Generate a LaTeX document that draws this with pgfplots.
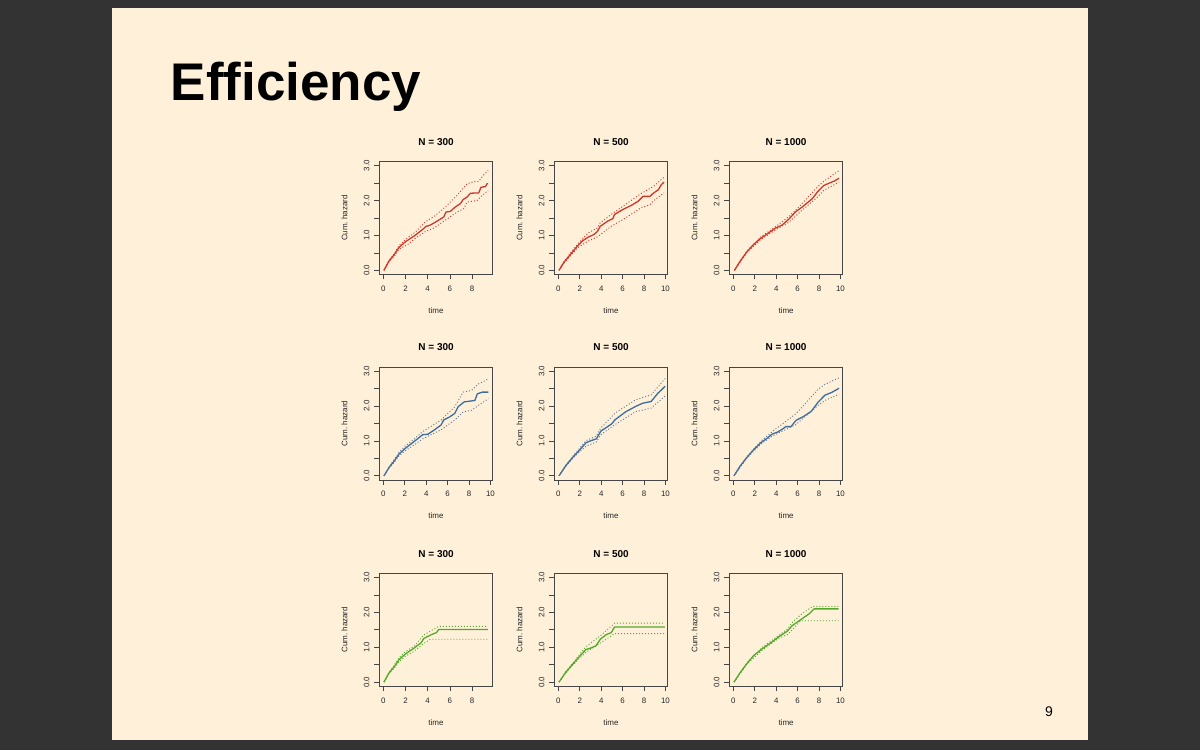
\documentclass[border=0pt]{standalone}
\usepackage{fontspec}
\setmainfont{Liberation Sans}
\usepackage{pgfplots}
\pgfplotsset{compat=1.18}
\definecolor{bgdark}{RGB}{51,51,51}
\definecolor{cream}{RGB}{255,241,217}
\definecolor{rred}{RGB}{208,55,45}
\definecolor{rblue}{RGB}{60,108,160}
\definecolor{rbluec}{RGB}{95,115,145}
\definecolor{rgreen}{RGB}{85,168,45}
\definecolor{axcol}{RGB}{70,70,70}
\pgfplotsset{
  rpanel/.style={
    scale only axis, width=113.5pt, height=113pt, anchor=south west,
    ymin=-0.12, ymax=3.12,
    ytick={0,0.5,1,1.5,2,2.5,3}, yticklabels={0.0,,1.0,,2.0,,3.0},
    xtick pos=left, ytick pos=left,
    tick align=outside, major tick length=5pt,
    axis line style={draw=axcol, line width=0.7pt},
    every tick/.style={draw=axcol, line width=0.7pt},
    tick label style={font=\fontsize{7.9}{9}\selectfont, text=black!85},
    yticklabel style={xshift=-4.6pt, rotate=90, anchor=south, inner sep=0pt},
    xticklabel style={anchor=north, inner sep=0pt, yshift=-6.1pt},
    xlabel=time, ylabel={Cum.\ hazard},
    label style={font=\fontsize{8}{9}\selectfont, text=black!85},
    xlabel style={at={(axis description cs:0.5,0)}, anchor=base, yshift=-39pt},
    ylabel style={at={(axis description cs:-0.282,0.5)}, anchor=base},
    title style={at={(axis description cs:0.5,1)}, anchor=base, yshift=10pt, font=\bfseries\fontsize{10}{12}\selectfont},
  },
  short/.style={xmin=-0.36, xmax=9.87, xtick={0,2,4,6,8}, xticklabels={0,2,4,6,8}},
  long/.style={xmin=-0.38, xmax=10.22, xtick={0,2,4,6,8,10}, xticklabels={0,2,4,6,8,10}},
  est/.style={line width=1.3pt, line join=round},
  ci/.style={line width=0.9pt, dash pattern=on 1pt off 2pt},
}
\begin{document}
\begin{tikzpicture}[x=1pt,y=1pt]
\useasboundingbox (0,0) rectangle (1200,750);
\fill[bgdark] (0,0) rectangle (1200,750);
\fill[cream] (112,10) rectangle (1088,742);
\node[anchor=base west, inner sep=0pt, font=\fontsize{53}{60}\selectfont\bfseries] at (170.7,649.3) {Efficiency};
\node[anchor=base, inner sep=0pt, font=\fontsize{14}{16}\selectfont] at (1049,33) {9};

% ---------- Row 1: red ----------
\begin{axis}[rpanel, short, at={(379.3pt,475.5pt)}, title={N = 300}]
\addplot[est, rred] coordinates {(0.06,0) (0.5,0.26) (0.96,0.44) (1.4,0.65) (2.0,0.82) (2.9,1.01) (3.65,1.20) (3.8,1.25) (4.25,1.30) (4.85,1.41) (5.45,1.53) (5.65,1.67) (6.05,1.69) (6.5,1.82) (6.95,1.91) (7.2,2.03) (7.55,2.10) (7.85,2.21) (8.6,2.22) (8.8,2.38) (9.2,2.40) (9.35,2.48) (9.45,2.48)};
\addplot[ci, rred] coordinates {(0.06,0) (0.5,0.28) (1.0,0.48) (1.4,0.70) (2.15,0.92) (2.9,1.10) (3.8,1.39) (4.6,1.55) (5.6,1.82) (6.65,2.15) (7.55,2.48) (8.15,2.54) (8.6,2.55) (9.0,2.72) (9.45,2.86)};
\addplot[ci, rred] coordinates {(0.06,0) (0.5,0.24) (1.0,0.40) (1.4,0.60) (2.15,0.73) (2.9,0.92) (3.8,1.11) (4.6,1.22) (5.6,1.44) (6.65,1.67) (7.25,1.77) (7.55,1.96) (8.45,2.0) (8.75,2.10) (9.45,2.29)};
\end{axis}
\begin{axis}[rpanel, long, at={(554.3pt,475.5pt)}, title={N = 500}]
\addplot[est, rred] coordinates {(0.06,0) (0.5,0.22) (1.14,0.46) (1.77,0.69) (2.24,0.84) (2.78,0.95) (3.34,1.03) (3.66,1.12) (3.9,1.26) (4.6,1.41) (5.08,1.48) (5.24,1.60) (6.0,1.74) (6.8,1.86) (7.45,1.98) (7.9,2.12) (8.55,2.12) (8.86,2.21) (9.34,2.31) (9.6,2.45) (9.87,2.53)};
\addplot[ci, rred] coordinates {(0.06,0) (0.5,0.24) (1.14,0.50) (1.77,0.74) (2.78,1.07) (3.66,1.22) (3.9,1.36) (4.92,1.60) (6.0,1.83) (7.76,2.21) (8.86,2.40) (9.87,2.67)};
\addplot[ci, rred] coordinates {(0.06,0) (0.5,0.20) (1.14,0.42) (1.77,0.64) (2.78,0.84) (3.66,0.96) (4.92,1.26) (6.0,1.45) (7.76,1.80) (8.55,1.88) (8.86,1.99) (9.87,2.22)};
\end{axis}
\begin{axis}[rpanel, long, at={(729.3pt,475.5pt)}, title={N = 1000}]
\addplot[est, rred] coordinates {(0.1,0) (0.63,0.26) (1.26,0.53) (1.89,0.74) (2.52,0.91) (3.14,1.04) (3.93,1.21) (4.56,1.30) (5.19,1.47) (5.82,1.68) (6.45,1.82) (7.39,2.06) (7.86,2.25) (8.43,2.43) (8.8,2.48) (9.43,2.56) (9.87,2.64)};
\addplot[ci, rred] coordinates {(0.1,0) (1.26,0.55) (2.52,0.95) (3.93,1.25) (5.19,1.54) (6.45,1.92) (7.86,2.39) (8.43,2.55) (9.87,2.86)};
\addplot[ci, rred] coordinates {(0.1,0) (1.26,0.51) (2.52,0.87) (3.93,1.16) (5.19,1.38) (6.45,1.73) (7.86,2.10) (8.43,2.29) (9.87,2.53)};
\end{axis}

% ---------- Row 2: blue ----------
\begin{axis}[rpanel, long, at={(379.3pt,270pt)}, title={N = 300}]
\addplot[est, rblue] coordinates {(0.06,0) (0.53,0.24) (1.0,0.42) (1.48,0.63) (2.1,0.80) (2.9,0.99) (3.68,1.18) (4.15,1.19) (4.78,1.32) (5.4,1.46) (5.63,1.60) (6.2,1.69) (6.67,1.79) (6.98,1.98) (7.55,2.12) (8.55,2.16) (8.77,2.35) (9.25,2.40) (9.81,2.40)};
\addplot[ci, rbluec] coordinates {(0.06,0) (0.53,0.26) (1.0,0.46) (1.48,0.68) (2.1,0.87) (2.9,1.06) (3.68,1.27) (5.4,1.60) (6.67,1.98) (7.45,2.40) (8.24,2.45) (8.87,2.63) (9.81,2.78)};
\addplot[ci, rbluec] coordinates {(0.06,0) (0.53,0.22) (1.0,0.38) (1.48,0.58) (2.1,0.73) (2.9,0.89) (3.68,1.06) (5.4,1.32) (6.67,1.60) (7.45,1.83) (8.24,1.88) (8.87,2.02) (9.81,2.21)};
\end{axis}
\begin{axis}[rpanel, long, at={(554.3pt,270pt)}, title={N = 500}]
\addplot[est, rblue] coordinates {(0.06,0) (0.67,0.28) (1.31,0.52) (1.95,0.73) (2.59,0.95) (3.07,1.01) (3.55,1.06) (3.96,1.28) (4.5,1.39) (4.98,1.49) (5.3,1.61) (6.26,1.83) (7.22,1.99) (7.86,2.08) (8.66,2.13) (9.3,2.37) (9.62,2.46) (9.97,2.57)};
\addplot[ci, rbluec] coordinates {(0.06,0) (0.67,0.30) (1.31,0.55) (1.95,0.78) (2.59,1.01) (3.55,1.14) (3.96,1.37) (5.3,1.80) (7.22,2.18) (8.66,2.32) (9.97,2.79)};
\addplot[ci, rbluec] coordinates {(0.06,0) (0.67,0.26) (1.31,0.49) (1.95,0.68) (2.59,0.85) (3.55,0.97) (3.96,1.18) (5.3,1.47) (7.22,1.84) (8.66,1.94) (9.97,2.29)};
\end{axis}
\begin{axis}[rpanel, long, at={(729.3pt,270pt)}, title={N = 1000}]
\addplot[est, rblue] coordinates {(0.06,0) (0.63,0.28) (1.27,0.53) (1.9,0.75) (2.53,0.94) (3.16,1.08) (3.64,1.20) (4.11,1.25) (4.59,1.34) (4.9,1.41) (5.38,1.41) (5.85,1.59) (6.49,1.69) (7.28,1.85) (7.91,2.11) (8.54,2.31) (9.18,2.39) (9.87,2.51)};
\addplot[ci, rbluec] coordinates {(0.06,0) (1.27,0.55) (2.53,0.98) (3.64,1.27) (5.85,1.78) (7.91,2.48) (8.54,2.62) (9.87,2.81)};
\addplot[ci, rbluec] coordinates {(0.06,0) (1.27,0.51) (2.53,0.90) (3.64,1.14) (5.85,1.47) (7.91,2.02) (8.54,2.16) (9.87,2.34)};
\end{axis}

% ---------- Row 3: green ----------
\begin{axis}[rpanel, short, at={(379.3pt,63.7pt)}, title={N = 300}]
\addplot[est, rgreen] coordinates {(0.06,0) (0.51,0.26) (0.96,0.43) (1.41,0.64) (2.0,0.81) (2.75,0.97) (3.41,1.13) (3.65,1.25) (3.95,1.30) (4.4,1.37) (4.79,1.42) (5.0,1.51) (9.43,1.51)};
\addplot[ci, rgreen] coordinates {(0.06,0) (0.51,0.28) (0.96,0.47) (1.41,0.70) (2.0,0.88) (2.75,1.02) (3.65,1.35) (5.0,1.60) (9.43,1.60)};
\addplot[ci, rgreen] coordinates {(0.06,0) (0.51,0.24) (0.96,0.39) (1.41,0.58) (2.0,0.74) (2.75,0.88) (3.65,1.11) (4.25,1.23) (9.43,1.23)};
\end{axis}
\begin{axis}[rpanel, long, at={(554.3pt,63.7pt)}, title={N = 500}]
\addplot[est, rgreen] coordinates {(0.06,0) (0.66,0.27) (1.3,0.50) (1.93,0.72) (2.56,0.93) (3.04,0.98) (3.51,1.04) (3.92,1.23) (4.46,1.36) (4.94,1.42) (5.25,1.58) (9.94,1.58)};
\addplot[ci, rgreen] coordinates {(0.06,0) (0.66,0.29) (1.3,0.53) (1.93,0.77) (2.56,1.01) (3.92,1.33) (5.25,1.69) (9.94,1.69)};
\addplot[ci, rgreen] coordinates {(0.06,0) (0.66,0.25) (1.3,0.47) (1.93,0.67) (2.56,0.85) (3.92,1.12) (5.25,1.39) (9.94,1.39)};
\end{axis}
\begin{axis}[rpanel, long, at={(729.3pt,63.7pt)}, title={N = 1000}]
\addplot[est, rgreen] coordinates {(0.06,0) (0.63,0.27) (1.26,0.53) (1.89,0.76) (2.67,0.95) (3.46,1.12) (4.25,1.30) (5.03,1.46) (5.5,1.62) (6.29,1.79) (7.08,1.96) (7.55,2.10) (9.84,2.10)};
\addplot[ci, rgreen] coordinates {(0.06,0) (1.26,0.55) (2.67,0.99) (4.25,1.34) (5.03,1.52) (5.5,1.71) (6.29,1.93) (7.39,2.17) (9.84,2.17)};
\addplot[ci, rgreen] coordinates {(0.06,0) (1.26,0.51) (2.67,0.91) (4.25,1.26) (5.03,1.36) (5.5,1.50) (6.29,1.76) (9.84,1.76)};
\end{axis}
\end{tikzpicture}
\end{document}
